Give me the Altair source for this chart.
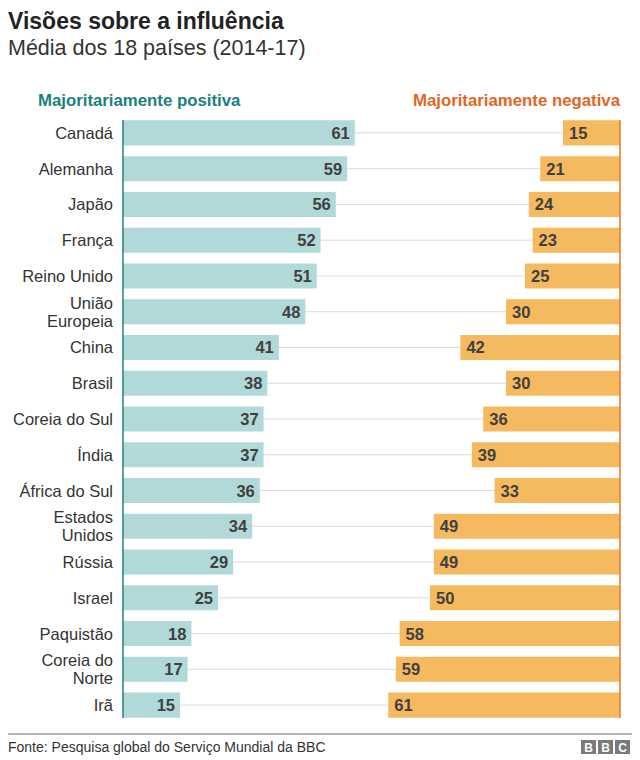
import altair as alt
import pandas as pd

countries = ["Canadá", "Alemanha", "Japão", "França", "Reino Unido", "União\nEuropeia",
             "China", "Brasil", "Coreia do Sul", "Índia", "África do Sul", "Estados\nUnidos",
             "Rússia", "Israel", "Paquistão", "Coreia do\nNorte", "Irã"]
positive = [61, 59, 56, 52, 51, 48, 41, 38, 37, 37, 36, 34, 29, 25, 18, 17, 15]
negative = [15, 21, 24, 23, 25, 30, 42, 30, 36, 39, 33, 49, 49, 50, 58, 59, 61]

title = "Visões sobre a influência"
subtitle = "Média dos 18 países (2014-17)"
head_pos = "Majoritariamente positiva"
head_neg = "Majoritariamente negativa"
source = "Fonte: Pesquisa global do Serviço Mundial da BBC"

TOTAL = 130.8
W, H = 497, 608
FONT = "Liberation Sans, Arial, Helvetica, sans-serif"
TEAL_BAR = "#b1d9d9"
TEAL_LINE = "#1c8585"
TEAL_TEXT = "#1a8080"
ORANGE_BAR = "#f5ba60"
ORANGE_LINE = "#e8782a"
ORANGE_TEXT = "#e2661f"

df = pd.DataFrame({"country": countries, "positive": positive, "negative": negative})

base = alt.Chart(df)
xs = alt.Scale(domain=[0, TOTAL], nice=False, zero=False)
ysc = alt.Scale(paddingInner=0.3, paddingOuter=0.15)
Y = alt.Y("country:N", sort=None, axis=None, scale=ysc)

grid = base.mark_rule(color="#dcdcdc", strokeWidth=1).encode(
    y=Y, x=alt.datum(0, scale=xs, axis=None), x2=alt.datum(TOTAL))

pos_bars = base.mark_bar(color=TEAL_BAR).encode(
    y=Y, x=alt.X("positive:Q", scale=xs, axis=None), x2=alt.datum(0))

neg_bars = base.transform_calculate(start=f"{TOTAL} - datum.negative").mark_bar(color=ORANGE_BAR).encode(
    y=Y, x=alt.X("start:Q", scale=xs, axis=None), x2=alt.datum(TOTAL))

pos_text = base.mark_text(align="right", baseline="middle", dx=-5, dy=1, font=FONT, fontSize=16.5,
                          fontWeight="bold", color="#404040").encode(
    y=Y, x=alt.X("positive:Q", scale=xs, axis=None), text="positive:Q")

neg_text = base.transform_calculate(start=f"{TOTAL} - datum.negative").mark_text(
    align="left", baseline="middle", dx=6, dy=1, font=FONT, fontSize=16.5, fontWeight="bold",
    color="#404040").encode(
    y=Y, x=alt.X("start:Q", scale=xs, axis=None), text="negative:Q")

labels1 = base.transform_filter("indexof(datum.country, '\\n') < 0").mark_text(
    align="right", baseline="middle", dy=1, font=FONT, fontSize=16.5, color="#333333").encode(
    y=Y, x=alt.value(-10), text="country:N")
labels2 = base.transform_filter("indexof(datum.country, '\\n') >= 0").mark_text(
    align="right", baseline="middle", dy=-8, lineBreak="\n", lineHeight=18,
    font=FONT, fontSize=16.5, color="#333333").encode(
    y=Y, x=alt.value(-10), text="country:N")

one = pd.DataFrame({"k": [0]})


def note(text, x, y, size, weight="normal", color="#222222", align="left"):
    return alt.Chart(one).mark_text(align=align, baseline="alphabetic", font=FONT, fontSize=size,
                                    fontWeight=weight, color=color).encode(
        x=alt.value(x), y=alt.value(y), text=alt.value(text))


teal_rule = alt.Chart(one).mark_rule(color=TEAL_LINE, strokeWidth=1.5).encode(
    x=alt.value(0), y=alt.value(5), y2=alt.value(H - 5))
orange_rule = alt.Chart(one).mark_rule(color=ORANGE_LINE, strokeWidth=1.5).encode(
    x=alt.value(W), y=alt.value(5), y2=alt.value(H - 5))

foot_line = alt.Chart(one).mark_rule(color="#9a9a9a", strokeWidth=1.5).encode(
    x=alt.value(-123), x2=alt.value(509), y=alt.value(619))

layers = [grid, pos_bars, neg_bars, pos_text, neg_text, labels1, labels2, teal_rule, orange_rule,
          note(title, -115, -86, 23, "bold", "#222222"),
          note(subtitle, -115, -60, 21.5, "normal", "#333333"),
          note(head_pos, -85, -9, 16.8, "bold", TEAL_TEXT),
          note(head_neg, W, -9, 16.8, "bold", ORANGE_TEXT, "right"),
          foot_line,
          note(source, -115, 637, 14, "normal", "#333333")]

for i, letter in enumerate("BBC"):
    x0 = 458 + i * 17
    layers.append(alt.Chart(one).mark_rect(color="#7a7a7a").encode(
        x=alt.value(x0), x2=alt.value(x0 + 15), y=alt.value(625), y2=alt.value(639)))
    layers.append(alt.Chart(one).mark_text(align="center", baseline="middle", font=FONT, fontSize=12,
                                           fontWeight="bold", color="white").encode(
        x=alt.value(x0 + 7.5), y=alt.value(632.5), text=alt.value(letter)))

chart = alt.layer(*layers).properties(
    width=W, height=H,
    autosize=alt.AutoSizeParams(type="none"),
    padding={"left": 115, "top": 107, "right": 12, "bottom": 33},
    background="white",
).configure_view(stroke=None)

chart.save("out.html", embed_options={"renderer": "svg", "actions": False})
